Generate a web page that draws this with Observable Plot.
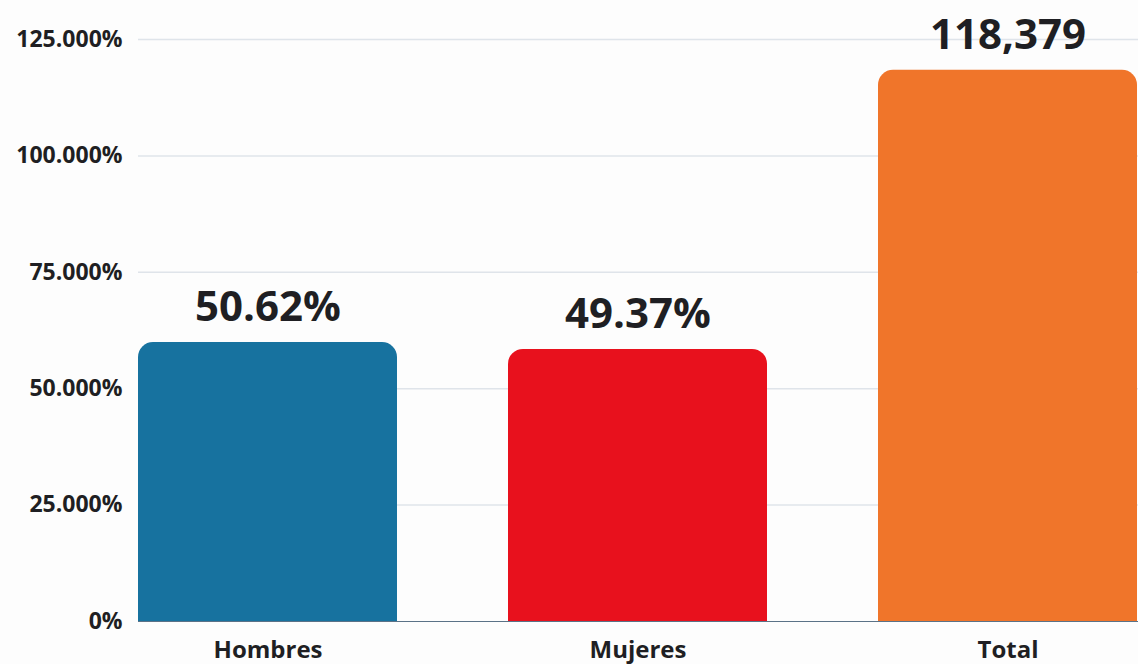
<!DOCTYPE html>
<html><head><meta charset="utf-8">
<script src="https://cdn.jsdelivr.net/npm/d3@7"></script>
<script src="https://cdn.jsdelivr.net/npm/@observablehq/plot@0.6"></script>
<style>
html,body{margin:0;padding:0;background:#fdfdfd;}
#chart svg{display:block;}
</style>
</head><body><div id="chart"></div>
<script>
const categories = ["Hombres", "Mujeres", "Total"];
const values = [59923, 58443, 118379];
const labels = ["50.62%", "49.37%", "118,379"];
const colors = ["#17729f", "#e8111d", "#f0752a"];
const yTicks = [0, 25000, 50000, 75000, 100000, 125000];

const data = categories.map((c, i) => ({cat: c, value: values[i], label: labels[i], color: colors[i]}));
const fmt = d => d === 0 ? "0%" : d3.format(",")(d).replace(/,/g, ".") + "%";
const font = "'Open Sans', 'Noto Sans', sans-serif";

const chart = Plot.plot({
  width: 1138,
  height: 664,
  marginLeft: 138,
  marginRight: 0,
  marginTop: 39,
  marginBottom: 43,
  style: {background: "#fdfdfd", fontFamily: font, color: "#1f1f23"},
  x: {domain: categories, padding: 0.3, paddingOuter: 0, axis: null},
  y: {domain: [0, 125000], axis: null},
  marks: [
    Plot.ruleY(yTicks.filter(d => d > 0), {stroke: "#dfe4ea", strokeWidth: 1.5}),
    Plot.barY(data, {x: "cat", y: "value", fill: "color", ry1: 15}),
    Plot.ruleY([0], {stroke: "#5b7287", strokeWidth: 1.2}),
    Plot.axisY({ticks: yTicks, tickFormat: fmt, tickSize: 0, tickPadding: 16, fontSize: 23, fontWeight: 700, fill: "#1f1f23", label: null}),
    Plot.axisX({tickSize: 0, tickPadding: 19, fontSize: 24, fontWeight: 700, fill: "#1f1f23", label: null}),
    Plot.text(data, {x: "cat", y: "value", text: "label", lineAnchor: "bottom", dy: -21, fontSize: 42, fontWeight: 700, fill: "#1f1f23"})
  ]
});
document.getElementById("chart").append(chart);
</script>
</body></html>
